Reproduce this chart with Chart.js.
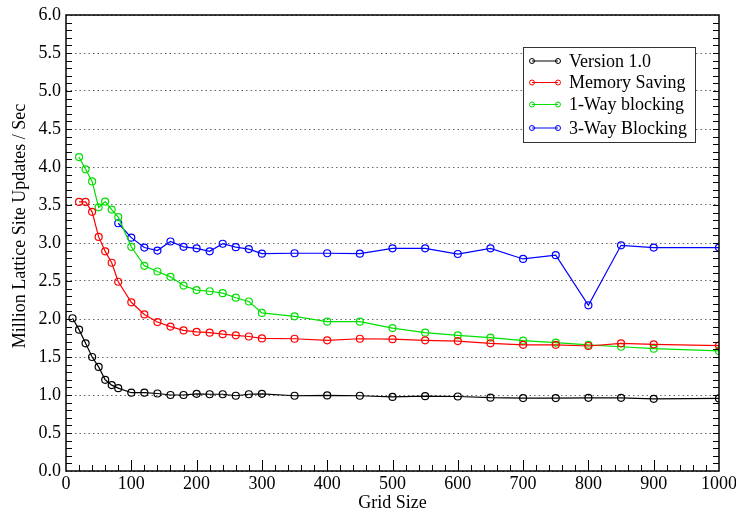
<!DOCTYPE html>
<html>
<head>
<meta charset="utf-8">
<script src="https://cdn.jsdelivr.net/npm/chart.js@4.4.1/dist/chart.umd.min.js"></script>
<style>
  html, body { margin: 0; padding: 0; background: #fff; }
  #wrap { width: 736px; height: 514px; }
</style>
</head>
<body>
<div id="wrap"><canvas id="chart" width="736" height="514"></canvas></div>
<script>
// grid sizes for each run
const xVersion = [10, 20, 30, 40, 50, 60, 70, 80, 100, 120, 140, 160, 180, 200, 220, 240, 260, 280, 300,
                  350, 400, 450, 500, 550, 600, 650, 700, 750, 800, 850, 900, 1000];
const xMemory = [20, 30, 40, 50, 60, 70, 80, 100, 120, 140, 160, 180, 200, 220, 240, 260, 280, 300,
                 350, 400, 450, 500, 550, 600, 650, 700, 750, 800, 850, 900, 1000];
const xOneWay = xMemory;
const xThreeWay = [80, 100, 120, 140, 160, 180, 200, 220, 240, 260, 280, 300,
                   350, 400, 450, 500, 550, 600, 650, 700, 750, 800, 850, 900, 1000];

// million lattice site updates / sec
const yVersion = [2.01, 1.86, 1.68, 1.50, 1.37, 1.20, 1.13, 1.09, 1.03, 1.03, 1.02, 1.00, 1.00, 1.015, 1.01, 1.01, 0.99, 1.01, 1.015,
                  0.99, 0.995, 0.99, 0.975, 0.985, 0.98, 0.965, 0.96, 0.96, 0.963, 0.963, 0.95, 0.955];
const yMemory = [3.54, 3.54, 3.41, 3.08, 2.89, 2.74, 2.49, 2.22, 2.06, 1.96, 1.90, 1.85, 1.83, 1.82, 1.80, 1.785, 1.77, 1.745,
                 1.74, 1.72, 1.74, 1.735, 1.72, 1.71, 1.68, 1.66, 1.66, 1.645, 1.68, 1.667, 1.65];
const yOneWay = [4.13, 3.97, 3.81, 3.47, 3.545, 3.44, 3.34, 2.95, 2.70, 2.625, 2.555, 2.44, 2.38, 2.365, 2.34, 2.28, 2.23, 2.08,
                 2.035, 1.965, 1.965, 1.88, 1.82, 1.785, 1.755, 1.715, 1.69, 1.66, 1.635, 1.61, 1.58];
const yThreeWay = [3.26, 3.07, 2.94, 2.90, 3.02, 2.95, 2.93, 2.89, 2.99, 2.945, 2.92, 2.86,
                   2.865, 2.865, 2.86, 2.93, 2.93, 2.855, 2.93, 2.79, 2.84, 2.18, 2.97, 2.94, 2.94];

const seriesNames = ['Version 1.0', 'Memory Saving', '1-Way blocking', '3-Way Blocking'];
const seriesColors = ['#000000', '#ff0000', '#00e000', '#0000ff'];

const yTicks = [0, 0.5, 1, 1.5, 2, 2.5, 3, 3.5, 4, 4.5, 5, 5.5, 6];
const xTicks = [0, 100, 200, 300, 400, 500, 600, 700, 800, 900, 1000];

const FONT = '"Liberation Serif", "Times New Roman", serif';
const yTitle = 'Million Lattice Site Updates / Sec';

function pairs(xs, ys) {
    return xs.map((x, i) => ({ x: x, y: ys[i] }));
}

const allX = [xVersion, xMemory, xOneWay, xThreeWay];
const allY = [yVersion, yMemory, yOneWay, yThreeWay];

const datasets = seriesNames.map((name, i) => ({
    label: name,
    data: pairs(allX[i], allY[i]),
    borderColor: seriesColors[i],
    backgroundColor: 'rgba(0,0,0,0)',
    borderWidth: 1.2,
    pointRadius: 3.5,
    pointBorderWidth: 1.2,
    pointBackgroundColor: 'rgba(0,0,0,0)',
    pointBorderColor: seriesColors[i],
    tension: 0
}));

// box, inward ticks, y title and the legend
const framePlugin = {
    id: 'frame',
    afterDraw(chart) {
        const ctx = chart.ctx;
        const a = chart.chartArea;
        const xs = chart.scales.x;
        const ys = chart.scales.y;
        ctx.save();
        ctx.strokeStyle = '#000';
        ctx.lineWidth = 1;
        ctx.beginPath();
        for (let v = 20; v < 1000; v += 20) {
            const px = Math.round(xs.getPixelForValue(v)) + 0.5;
            const len = (v % 100 === 0) ? 11 : 6;
            ctx.moveTo(px, a.bottom);
            ctx.lineTo(px, a.bottom - len);
        }
        for (let k = 1; k < 60; k++) {
            const py = Math.round(ys.getPixelForValue(k / 10)) + 0.5;
            ctx.moveTo(a.left, py);
            ctx.lineTo(a.left + 6, py);
            ctx.moveTo(a.right, py);
            ctx.lineTo(a.right - 6, py);
        }
        ctx.stroke();
        ctx.lineWidth = 1.5;
        ctx.strokeRect(a.left, a.top, a.right - a.left, a.bottom - a.top);

        // y axis title
        ctx.fillStyle = '#000';
        ctx.font = '18px ' + FONT;
        ctx.textAlign = 'center';
        ctx.textBaseline = 'middle';
        ctx.translate(20, 226);
        ctx.rotate(-Math.PI / 2);
        ctx.fillText(yTitle, 0, 0);
        ctx.setTransform(1, 0, 0, 1, 0, 0);

        // legend
        const lx = 523, ly = 47, lw = 172, lh = 95;
        ctx.fillStyle = '#fff';
        ctx.fillRect(lx, ly, lw, lh);
        ctx.lineWidth = 1;
        ctx.strokeStyle = '#333';
        ctx.strokeRect(lx + 0.5, ly + 0.5, lw, lh);
        ctx.textAlign = 'left';
        const rows = [61, 82.5, 104.5, 128];
        chart.data.datasets.forEach((ds, i) => {
            const ry = rows[i];
            ctx.strokeStyle = ds.borderColor;
            ctx.beginPath();
            ctx.moveTo(532, ry);
            ctx.lineTo(558, ry);
            ctx.stroke();
            ctx.beginPath();
            ctx.arc(532, ry, 2.5, 0, Math.PI * 2);
            ctx.stroke();
            ctx.beginPath();
            ctx.arc(558, ry, 2.5, 0, Math.PI * 2);
            ctx.stroke();
            ctx.fillStyle = '#000';
            ctx.fillText(ds.label, 569, ry + 1);
        });
        ctx.restore();
    }
};

new Chart(document.getElementById('chart'), {
    type: 'line',
    data: { datasets: datasets },
    options: {
        responsive: false,
        animation: false,
        events: [],
        layout: { padding: { top: 15, right: 17, left: 0, bottom: 0 } },
        plugins: {
            legend: { display: false },
            tooltip: { enabled: false }
        },
        scales: {
            x: {
                type: 'linear',
                min: 0,
                max: 1000,
                afterFit: s => { s.height = 43; s.paddingLeft = 0; s.paddingRight = 0; },
                afterBuildTicks: s => { s.ticks = xTicks.map(v => ({ value: v })); },
                grid: { display: false, drawTicks: false },
                border: { display: false },
                ticks: {
                    color: '#000',
                    padding: 2,
                    maxRotation: 0,
                    font: { family: FONT, size: 18 },
                    callback: v => String(v)
                },
                title: {
                    display: true,
                    text: 'Grid Size',
                    color: '#000',
                    padding: 0,
                    font: { family: FONT, size: 18 }
                }
            },
            y: {
                min: 0,
                max: 6,
                afterFit: s => { s.width = 66; s.paddingTop = 0; s.paddingBottom = 0; },
                afterBuildTicks: s => { s.ticks = yTicks.map(v => ({ value: v })); },
                grid: {
                    drawTicks: false,
                    color: '#666',
                    lineWidth: 1,
                    borderDash: [1.5, 3]
                },
                border: { display: false, dash: [1.5, 3] },
                ticks: {
                    color: '#000',
                    padding: 5,
                    font: { family: FONT, size: 18 },
                    callback: v => v.toFixed(1)
                },
                title: { display: false }
            }
        }
    },
    plugins: [framePlugin]
});
</script>
</body>
</html>
